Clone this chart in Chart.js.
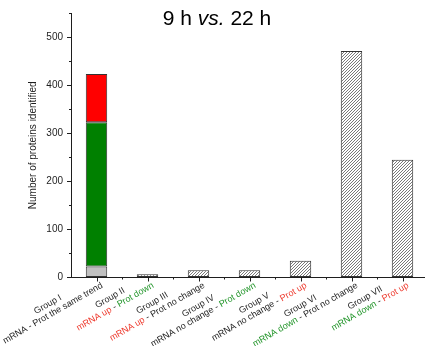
<!DOCTYPE html>
<html>
<head>
<meta charset="utf-8">
<script src="https://cdn.jsdelivr.net/npm/chart.js@4/dist/chart.umd.min.js"></script>
<style>
  html, body { margin: 0; padding: 0; background: #fff; overflow: hidden; }
  #c { display: block; }
</style>
</head>
<body>
<canvas id="c" width="428" height="346"></canvas>
<script>
// Protein groups compared between 9 h and 22 h
const categories = ["Group I", "Group II", "Group III", "Group IV", "Group V", "Group VI", "Group VII"];

// Group I is split by direction of change (stacked)
const sameTrendNoChange = [23, null, null, null, null, null, null];
const sameTrendDown     = [300, null, null, null, null, null, null];
const sameTrendUp       = [100, null, null, null, null, null, null];

// Remaining groups (hatched bars)
const otherGroups = [null, 7, 15, 15, 35, 471, 245];

// Second label line: mRNA part and protein part
const mrnaText = ["mRNA", "mRNA up", "mRNA up", "mRNA no change", "mRNA no change", "mRNA down", "mRNA down"];
const protText = ["Prot the same trend", "Prot down", "Prot no change", "Prot down", "Prot up", "Prot no change", "Prot up"];

const yTicks = [0, 100, 200, 300, 400, 500];
const yMax = 550;

const RED_TXT = "#ee3a2e";
const GREEN_TXT = "#22952a";
const INK = "#1e1e1e";
const FONT = "'Liberation Sans', Arial, sans-serif";

function textColor(s) {
  if (/ up$/.test(s)) return RED_TXT;
  if (/ down$/.test(s)) return GREEN_TXT;
  return INK;
}

// Diagonal hatch fill
function makeHatch() {
  const s = 3;
  const p = document.createElement("canvas");
  p.width = s; p.height = s;
  const g = p.getContext("2d");
  g.fillStyle = "#ffffff";
  g.fillRect(0, 0, s, s);
  g.strokeStyle = "#6a6a6a";
  g.lineWidth = 0.9;
  g.beginPath();
  g.moveTo(-1, s + 1); g.lineTo(s + 1, -1);
  g.moveTo(-1, 1); g.lineTo(1, -1);
  g.moveTo(s - 1, s + 1); g.lineTo(s + 1, s - 1);
  g.stroke();
  return document.getElementById("c").getContext("2d").createPattern(p, "repeat");
}

const decorations = {
  id: "decorations",
  afterDraw(chart) {
    const ctx = chart.ctx;
    const xs = chart.scales.x, ys = chart.scales.y;
    const area = chart.chartArea;
    const axisY = area.bottom;
    ctx.save();

    // Title with italic "vs."
    ctx.fillStyle = "#000";
    ctx.textBaseline = "alphabetic";
    const parts = [["9 h ", "normal"], ["vs.", "italic"], [" 22 h", "normal"]];
    let total = 0;
    parts.forEach(p => { ctx.font = p[1] + " 21px " + FONT; total += ctx.measureText(p[0]).width; });
    let tx = 217 - total / 2;
    parts.forEach(p => {
      ctx.font = p[1] + " 21px " + FONT;
      ctx.fillText(p[0], tx, 25);
      tx += ctx.measureText(p[0]).width;
    });

    // Y axis title
    ctx.save();
    ctx.translate(33.5, (area.top + area.bottom) / 2);
    ctx.rotate(-Math.PI / 2);
    ctx.font = "10px " + FONT;
    ctx.fillStyle = INK;
    ctx.textAlign = "center";
    ctx.textBaseline = "middle";
    ctx.fillText("Number of proteins identified", 0, 0);
    ctx.restore();

    // Minor ticks on the y axis
    ctx.strokeStyle = INK;
    ctx.lineWidth = 1;
    ctx.beginPath();
    for (let v = 50; v <= yMax; v += 100) {
      const y = Math.round(ys.getPixelForValue(v)) + 0.5;
      ctx.moveTo(area.left - 2, y); ctx.lineTo(area.left, y);
    }
    // Major ticks at the categories, minor ticks between them
    const step = xs.getPixelForValue(1) - xs.getPixelForValue(0);
    categories.forEach((c, i) => {
      const x = Math.round(xs.getPixelForValue(i)) + 0.5;
      ctx.moveTo(x, axisY); ctx.lineTo(x, axisY + 4);
      const b = Math.round(xs.getPixelForValue(i) + step / 2) + 0.5;
      ctx.moveTo(b, axisY); ctx.lineTo(b, axisY + 2);
    });
    ctx.stroke();

    // Rotated two-line category labels
    const ang = -30 * Math.PI / 180;
    const lineH = 10;
    ctx.font = "9px " + FONT;
    ctx.textBaseline = "middle";
    ctx.textAlign = "left";
    categories.forEach((c, i) => {
      const segs2 = [[mrnaText[i], textColor(mrnaText[i])], [" - ", INK], [protText[i], textColor(protText[i])]];
      const w1 = ctx.measureText(c).width;
      const w2 = segs2.reduce((s, sg) => s + ctx.measureText(sg[0]).width, 0);
      const wMax = Math.max(w1, w2);
      const x = xs.getPixelForValue(i);
      ctx.save();
      ctx.translate(x + 3, axisY + 3);
      ctx.rotate(ang);
      ctx.fillStyle = INK;
      ctx.fillText(c, -wMax / 2 - w1 / 2, -lineH / 2);
      let px = -wMax / 2 - w2 / 2;
      segs2.forEach(sg => {
        ctx.fillStyle = sg[1];
        ctx.fillText(sg[0], px, lineH / 2);
        px += ctx.measureText(sg[0]).width;
      });
      ctx.restore();
    });

    ctx.restore();
  }
};

const hatch = makeHatch();
const barCommon = { borderWidth: 1, borderSkipped: false, barPercentage: 0.42, categoryPercentage: 1, borderColor: "#333333" };

new Chart(document.getElementById("c"), {
  type: "bar",
  data: {
    labels: categories,
    datasets: [
      Object.assign({ data: sameTrendNoChange, backgroundColor: "#c0c0c0" }, barCommon),
      Object.assign({ data: sameTrendDown, backgroundColor: "#008000" }, barCommon),
      Object.assign({ data: sameTrendUp, backgroundColor: "#ff0000" }, barCommon),
      Object.assign({ data: otherGroups, backgroundColor: hatch }, barCommon)
    ]
  },
  options: {
    responsive: false,
    animation: false,
    events: [],
    layout: { padding: { top: 13, left: 0, right: 0, bottom: 0 } },
    plugins: { legend: { display: false }, tooltip: { enabled: false } },
    scales: {
      x: {
        stacked: true,
        grid: { display: false },
        border: { display: true, color: INK, width: 1 },
        ticks: { display: false },
        afterFit(scale) { scale.height = 68.5; }
      },
      y: {
        stacked: true,
        min: 0,
        max: yMax,
        afterBuildTicks(scale) { scale.ticks = yTicks.map(v => ({ value: v })); },
        ticks: { color: INK, font: { family: FONT, size: 10 }, padding: 4 },
        grid: { drawOnChartArea: false, drawTicks: true, tickLength: 4, color: INK },
        border: { display: true, color: INK, width: 1 },
        afterFit(scale) { scale.width = 71; }
      }
    }
  },
  plugins: [decorations]
});
</script>
</body>
</html>
